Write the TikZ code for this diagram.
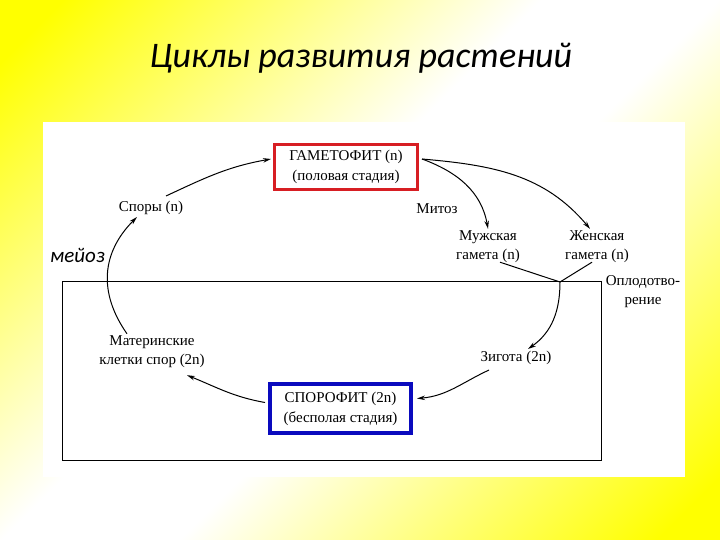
\documentclass[tikz,border=0pt]{standalone}
\usepackage{fontspec}
\setmainfont{Liberation Serif}
\newfontfamily\titlefont{Carlito}
\usetikzlibrary{arrows.meta}
\definecolor{boxred}{RGB}{215,30,35}
\definecolor{boxblue}{RGB}{10,10,190}
\pgfdeclarehorizontalshading{bgshade}{100bp}{color(0bp)=(yellow); color(18bp)=(yellow); color(45bp)=(white); color(55bp)=(white); color(82bp)=(yellow); color(100bp)=(yellow)}
\begin{document}
\begin{tikzpicture}[x=1pt,y=-1pt,
  lbl/.style={font=\fontsize{15}{19}\selectfont, align=center, inner sep=2pt},
  stagebox/.style={font=\fontsize{15}{20}\selectfont, align=center, inner sep=2pt, fill=white},
  arr/.style={-{Stealth[length=8pt,width=4.5pt]}, line width=1pt},
  con/.style={line width=1pt}]
\useasboundingbox (0,0) rectangle (720,540);
\shade[shading=bgshade, shading angle=-45] (0,0) rectangle (720,540);
\fill[white] (43,122) rectangle (685,477);
\draw[line width=0.9pt] (62,281) rectangle (601,460);
% title
\node[font=\titlefont\itshape\fontsize{36}{42}\selectfont] (title) at (361,58) {Циклы развития растений};
% stage boxes
\node[stagebox, draw=boxred, line width=3pt, minimum width=143pt, minimum height=45pt] (gam) at (346,167) {ГАМЕТОФИТ (n)\\(половая стадия)};
\node[stagebox, draw=boxblue, line width=4pt, minimum width=141pt, minimum height=49pt] (spo) at (340.5,408.5) {СПОРОФИТ (2n)\\(бесполая стадия)};
% labels
\node[lbl] (spory) at (151,208) {Споры (n)};
\node[font=\titlefont\itshape\fontsize{21}{24}\selectfont, anchor=west, inner sep=0pt] (meioz) at (50,255) {мейоз};
\node[lbl] (mitoz) at (437,209) {Митоз};
\node[lbl] (male) at (488,247) {Мужская\\гамета (n)};
\node[lbl] (female) at (597,247) {Женская\\гамета (n)};
\node[lbl] (oplod) at (643,292) {Оплодотво-\\рение};
\node[lbl] (zig) at (516,358) {Зигота (2n)};
\node[lbl] (mat) at (152,352) {Материнские\\клетки спор (2n)};
\coordinate (fert) at (560,282);
% connectors
\draw[arr] ([xshift=15pt,yshift=3pt]spory.north) to[out=25, in=190] ([yshift=8pt,xshift=-2pt]gam.west);
\draw[arr] ([xshift=-25pt]mat.north) to[out=125, in=225, looseness=1.1] ([xshift=-14pt]spory.south);
\draw[arr] ([yshift=8pt,xshift=3pt]gam.east) to[out=-20, in=100] (male.north);
\draw[arr] ([yshift=8pt,xshift=3pt]gam.east) to[out=-5, in=130] ([xshift=-7pt]female.north);
\draw[con] ([shift={(12pt,3pt)}]male.south) -- (fert);
\draw[con] ([shift={(-5pt,3pt)}]female.south) -- (fert);
\draw[arr] (fert) to[out=-90, in=35] ([xshift=12pt]zig.north);
\draw[arr] ([xshift=-27pt,yshift=-3pt]zig.south) to[out=205, in=5] ([yshift=10pt,xshift=4pt]spo.east);
\draw[arr] ([yshift=6pt,xshift=-3pt]spo.west) to[out=170, in=-22] ([xshift=35pt,yshift=-5pt]mat.south);
\end{tikzpicture}
\end{document}
